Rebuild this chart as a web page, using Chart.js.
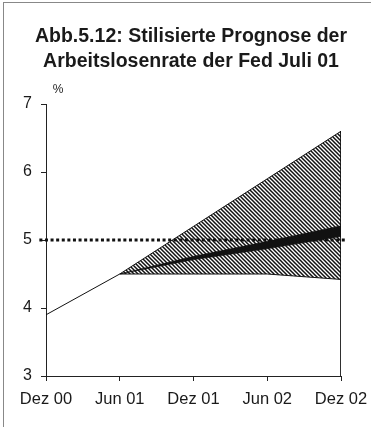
<!DOCTYPE html>
<html>
<head>
<meta charset="utf-8">
<script src="https://cdn.jsdelivr.net/npm/chart.js@4/dist/chart.umd.min.js"></script>
<style>
    html, body { margin: 0; padding: 0; background: #fff; }
    #wrap { position: relative; width: 371px; height: 427px; }
    #frame { position: absolute; left: 3px; top: 2px; right: 0; bottom: 0; border-left: 1px solid #888; border-top: 1px solid #888; }
    canvas { position: absolute; left: 0; top: 0; }
</style>
</head>
<body>
<div id="wrap">
    <div id="frame"></div>
    <canvas id="chart" width="371" height="427"></canvas>
</div>
<script>
// Zeitachse: Dez 00 .. Dez 02 (Halbjahre)
const periods = ['Dez 00', 'Jun 01', 'Dez 01', 'Jun 02', 'Dez 02'];
const yTicks = [3, 4, 5, 6, 7];
const titleLines = ['Abb.5.12: Stilisierte Prognose der', 'Arbeitslosenrate der Fed Juli 01'];

// Ist-Werte
const actualX = [0, 1];
const actual = [3.9, 4.5];

// Prognose ab Jun 01
const forecastX = [1, 2, 3, 4];
const bandLower = [4.5, 4.5, 4.5, 4.42];
const bandUpper = [4.5, 5.2, 5.9, 6.6];
const centerLower = [4.5, 4.71, 4.87, 5.05];
const centerUpper = [4.5, 4.76, 4.98, 5.21];

// gepunktete Linie bei ~5 %
const dottedX = [-0.09, 4.07];
const dotted = [5.0, 5.0];

const pts = (xs, ys) => xs.map((x, i) => ({ x: x, y: ys[i] }));
const FONT = '"Liberation Sans", Arial, sans-serif';

// Schraffur
const hatch = (() => {
    const c = document.createElement('canvas');
    c.width = 4; c.height = 4;
    const g = c.getContext('2d');
    g.strokeStyle = '#111';
    g.lineWidth = 1.5;
    g.beginPath();
    g.moveTo(-1, -1); g.lineTo(5, 5);
    g.moveTo(3, -1); g.lineTo(5, 1);
    g.moveTo(-1, 3); g.lineTo(1, 5);
    g.stroke();
    return g.createPattern(c, 'repeat');
})();

// Titel und "%" an festen Stellen
const texts = {
    id: 'texts',
    afterDraw(chart) {
        const ctx = chart.ctx;
        ctx.save();
        ctx.fillStyle = '#1a1a1a';
        ctx.textAlign = 'center';
        ctx.textBaseline = 'alphabetic';
        ctx.font = 'bold 19.5px ' + FONT;
        titleLines.forEach((t, i) => ctx.fillText(t, 191, 42 + i * 24.5));
        ctx.font = '12px ' + FONT;
        ctx.fillStyle = '#222';
        ctx.textBaseline = 'middle';
        ctx.fillText('%', 58, 90);
        ctx.restore();
    }
};

const line = { pointRadius: 0, tension: 0, borderColor: '#111', borderWidth: 1 };

new Chart(document.getElementById('chart'), {
    type: 'line',
    data: {
        datasets: [
            { ...line, data: pts(dottedX, dotted), borderWidth: 3.2, borderDash: [3, 2.6], clip: false, order: 1 },
            { ...line, data: pts(forecastX, bandLower), fill: false, order: 5 },
            { ...line, data: pts(forecastX, bandUpper), fill: '-1', backgroundColor: hatch, order: 4 },
            { ...line, data: pts(forecastX, centerLower), fill: false, borderWidth: 0.5, order: 3 },
            { ...line, data: pts(forecastX, centerUpper), fill: '-1', backgroundColor: '#111', borderWidth: 0.5, order: 0 },
            { ...line, data: pts(actualX, actual), order: 2 },
            { ...line, data: pts([4, 4], [6.6, 3]), order: 2 }
        ]
    },
    options: {
        responsive: false,
        animation: false,
        layout: { padding: { left: 0, right: 30, top: 104, bottom: 0 } },
        plugins: {
            legend: { display: false },
            tooltip: { enabled: false },
            title: { display: false }
        },
        scales: {
            x: {
                type: 'linear',
                min: 0,
                max: periods.length - 1,
                afterFit: s => { s.height = 51; s.paddingLeft = 0; s.paddingRight = 0; },
                afterBuildTicks: s => { s.ticks = periods.map((p, i) => ({ value: i })); },
                ticks: {
                    callback: v => periods[v],
                    color: '#1a1a1a',
                    font: { family: FONT, size: 16.5 },
                    padding: 9,
                    maxRotation: 0
                },
                grid: { drawOnChartArea: false, tickLength: 5, color: '#222' },
                border: { color: '#222', width: 1 }
            },
            y: {
                min: 3,
                max: 7,
                afterFit: s => { s.width = 46; s.paddingTop = 0; s.paddingBottom = 0; },
                afterBuildTicks: s => { s.ticks = yTicks.map(v => ({ value: v })); },
                ticks: {
                    color: '#1a1a1a',
                    font: { family: FONT, size: 16 },
                    padding: 9
                },
                grid: { drawOnChartArea: false, tickLength: 5, color: '#222' },
                border: { color: '#222', width: 1 }
            }
        }
    },
    plugins: [texts]
});
</script>
</body>
</html>
